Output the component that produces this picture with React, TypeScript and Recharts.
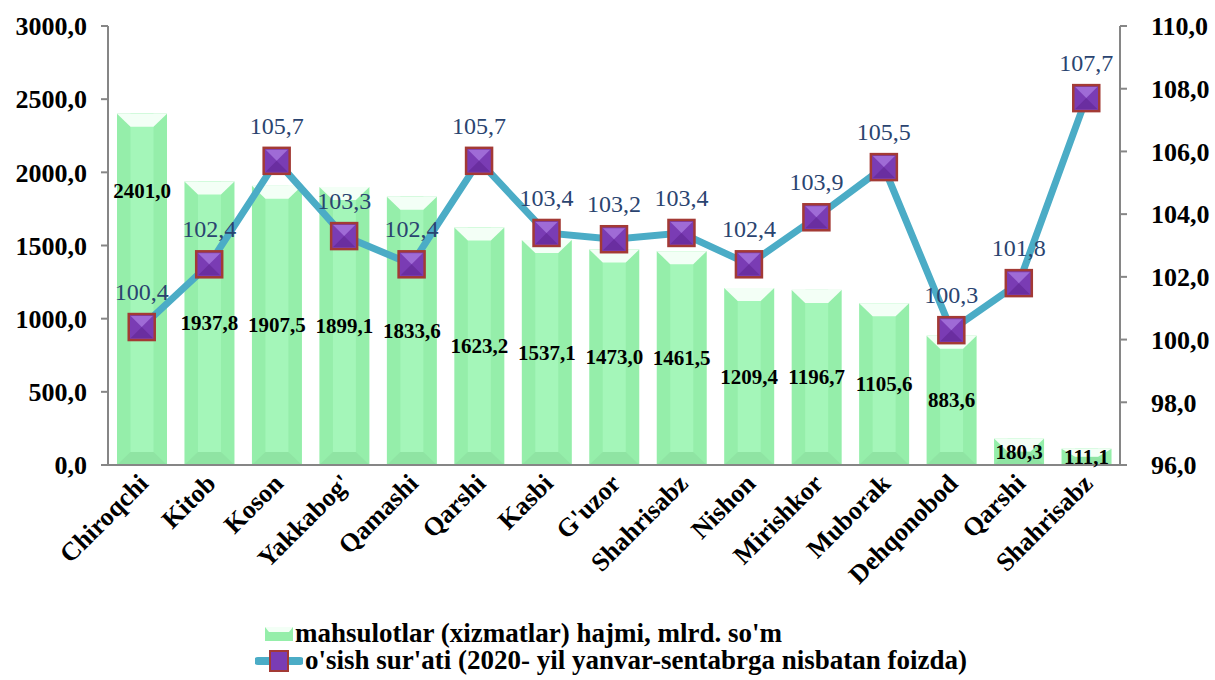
import { ComposedChart, Bar, Line, XAxis, YAxis, Legend, LabelList } from "recharts"

const districts = [
  "Chiroqchi", "Kitob", "Koson", "Yakkabog'", "Qamashi", "Qarshi", "Kasbi", "G'uzor",
  "Shahrisabz", "Nishon", "Mirishkor", "Muborak", "Dehqonobod", "Qarshi", "Shahrisabz",
]
const volume = [2401.0, 1937.8, 1907.5, 1899.1, 1833.6, 1623.2, 1537.1, 1473.0, 1461.5, 1209.4, 1196.7, 1105.6, 883.6, 180.3, 111.1]
const growth = [100.4, 102.4, 105.7, 103.3, 102.4, 105.7, 103.4, 103.2, 103.4, 102.4, 103.9, 105.5, 100.3, 101.8, 107.7]
const leftTicks = [0, 500, 1000, 1500, 2000, 2500, 3000]
const rightTicks = [96, 98, 100, 102, 104, 106, 108, 110]

const volumeName = "mahsulotlar (xizmatlar) hajmi, mlrd. so'm"
const growthName = "o'sish sur'ati (2020- yil yanvar-sentabrga nisbatan foizda)"

const data = districts.map((name, i) => ({ idx: i, name, volume: volume[i], growth: growth[i] }))

const FONT = "'Liberation Serif', 'Times New Roman', serif"
const fmt = (v: number) => v.toFixed(1).replace(".", ",")

function BevelBar(props: any) {
  const { x, y, width, height } = props
  if (!height || height <= 0) return null
  const d = Math.min(13, height * 0.5)
  const a = x + width * 0.27
  const b = x + width * 0.73
  return (
    <g>
      <rect x={x} y={y} width={width} height={height} fill="#95eeaa" />
      <rect x={a} y={y} width={b - a} height={height} fill="#a4f6b9" />
      <polygon points={`${x},${y + height} ${x + width},${y + height} ${b},${y + height - d} ${a},${y + height - d}`} fill="#8fe4a3" />
      <polygon points={`${x},${y} ${x + width},${y} ${b},${y + d} ${a},${y + d}`} fill="#f3fff6" />
    </g>
  )
}

function SquareDot(props: any) {
  const { cx, cy } = props
  if (cx == null || cy == null) return null
  const s = 13
  return (
    <g>
      <rect x={cx - s} y={cy - s} width={s * 2} height={s * 2} fill="#7a3cb4" stroke="#a33a35" strokeWidth={2.5} />
      <polygon points={`${cx - s + 2},${cy - s + 2} ${cx + s - 2},${cy - s + 2} ${cx},${cy}`} fill="#9f6bd6" />
      <polygon points={`${cx - s + 2},${cy + s - 2} ${cx + s - 2},${cy + s - 2} ${cx},${cy}`} fill="#6a2ea0" />
    </g>
  )
}

function VolumeLabel(props: any) {
  const { x, y, width, height, value, index } = props
  const ty = index === 0 ? y + 77 : y + height / 2
  return (
    <text x={x + width / 2} y={ty} textAnchor="middle" dominantBaseline="central"
      fontFamily={FONT} fontWeight="bold" fontSize={21} fill="#000">
      {fmt(value)}
    </text>
  )
}

function GrowthLabel(props: any) {
  const { x, y, value } = props
  return (
    <text x={x} y={y - 35} textAnchor="middle" dominantBaseline="central"
      fontFamily={FONT} fontSize={24} fill="#2a4470">
      {fmt(value)}
    </text>
  )
}

function RotatedTick(props: any) {
  const { x, y, payload } = props
  return (
    <text x={x + 8} y={y + 12} textAnchor="end" transform={`rotate(-45 ${x + 8} ${y + 12})`}
      fontFamily={FONT} fontWeight="bold" fontSize={26} fill="#000">
      {districts[payload.value]}
    </text>
  )
}

function LegendBox() {
  const row = { display: "flex", alignItems: "center", height: 27 } as const
  return (
    <div style={{ fontFamily: FONT, fontWeight: "bold", fontSize: 27, lineHeight: "27px", color: "#000", marginLeft: 255, paddingTop: 10, whiteSpace: "nowrap" }}>
      <div style={{ ...row, paddingLeft: 10 }}>
        <svg width={28} height={14}>
          <rect x={0} y={0} width={28} height={14} fill="#95eeaa" />
          <polygon points="0,0 28,0 24,5 4,5" fill="#f3fff6" />
        </svg>
        <span style={{ marginLeft: 2 }}>{volumeName}</span>
      </div>
      <div style={row}>
        <svg width={48} height={26}>
          <line x1={3} y1={13} x2={45} y2={13} stroke="#4bacc6" strokeWidth={8} strokeLinecap="round" />
          <rect x={15} y={3} width={18} height={20} fill="#7a3cb4" stroke="#a33a35" strokeWidth={2} />
        </svg>
        <span style={{ marginLeft: 2 }}>{growthName}</span>
      </div>
    </div>
  )
}

export default function App() {
  const axisTick = { fontFamily: FONT, fontWeight: "bold", fontSize: 26, fill: "#000" }
  return (
    <div style={{ position: "absolute", left: 0, top: 0, background: "#fff" }}>
      <ComposedChart width={1215} height={680} data={data} margin={{ top: 26, right: 0, bottom: 0, left: 0 }} barSize={50}>
        <XAxis dataKey="idx" type="category" tick={<RotatedTick />} tickLine={false} interval={0}
          axisLine={{ stroke: "#868686", strokeWidth: 2 }} height={145} />
        <YAxis yAxisId="left" domain={[0, 3000]} ticks={leftTicks} tickFormatter={fmt} width={108}
          axisLine={{ stroke: "#868686", strokeWidth: 2 }} tickLine={{ stroke: "#868686", strokeWidth: 2 }} tickSize={7}
          tick={{ ...axisTick, dx: -12 }} />
        <YAxis yAxisId="right" orientation="right" domain={[96, 110]} ticks={rightTicks} tickFormatter={fmt} width={95}
          axisLine={{ stroke: "#868686", strokeWidth: 2 }} tickLine={{ stroke: "#868686", strokeWidth: 2 }} tickSize={7}
          tick={{ ...axisTick, dx: 22 }} />
        <Bar yAxisId="left" dataKey="volume" name={volumeName} shape={<BevelBar />} isAnimationActive={false}>
          <LabelList dataKey="volume" content={<VolumeLabel />} />
        </Bar>
        <Line yAxisId="right" dataKey="growth" name={growthName} stroke="#4bacc6" strokeWidth={7}
          dot={<SquareDot />} activeDot={false} isAnimationActive={false}>
          <LabelList dataKey="growth" content={<GrowthLabel />} />
        </Line>
        <Legend verticalAlign="bottom" height={70} content={<LegendBox />} />
      </ComposedChart>
    </div>
  )
}
